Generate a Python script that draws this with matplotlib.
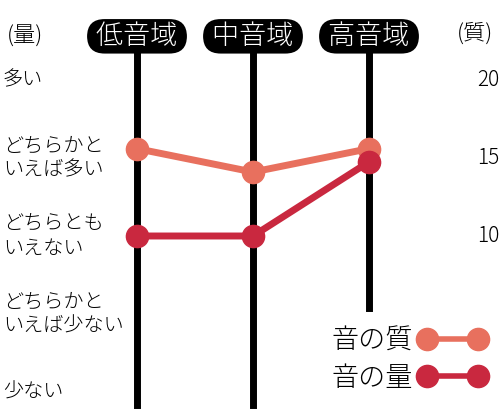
import matplotlib
matplotlib.use("Agg")
import matplotlib.pyplot as plt
from matplotlib.lines import Line2D

plt.rcParams['font.family'] = ['Noto Sans CJK JP', 'DejaVu Sans']
plt.rcParams['font.weight'] = 'light'

# data
ranges = ['低音域', '中音域', '高音域']
level_labels = ['少ない', 'どちらかと\nいえば少ない', 'どちらとも\nいえない', 'どちらかと\nいえば多い', '多い']
levels = [1, 2, 3, 4, 5]
quality_ticks = [10, 15, 20]
quality = [15.6, 14.1, 15.6]    # 音の質 (right scale)
quantity = [3.0, 3.0, 3.95]     # 音の量 (left scale)

c_quality = '#e8705e'
c_quantity = '#c9283f'

# pixel layout of the original: 116 px between columns, 78 px per level
lo, hi = 1 - 20 / 78, 5 + 80 / 78

fig = plt.figure(figsize=(5, 4.12), dpi=100)
axq = fig.add_axes([0, 0, 1, 1])
axq.set_xlim(-137 / 116, (500 - 137) / 116)
axq.set_ylim(5 * (lo - 1), 5 * (hi - 1))
axq.axis('off')

axv = axq.twinx()
axv.set_position([0, 0, 1, 1])
axv.set_ylim(lo, hi)
axv.axis('off')

# columns
for i, name in enumerate(ranges):
    bottom = 0.252 if i == len(ranges) - 1 else 0.017
    axq.axvline(i, ymin=bottom, ymax=0.9, color='black', lw=5, zorder=1)
    axv.text(i, 5.56, ' ' + name + ' ', ha='center', va='center', color='white',
             fontsize=19.5, zorder=5,
             bbox=dict(boxstyle='round,pad=0.12,rounding_size=0.65', fc='black', ec='none'))

axq.plot(range(len(ranges)), quality, color=c_quality, lw=5, marker='o', ms=16, zorder=3)
axv.plot(range(len(ranges)), quantity, color=c_quantity, lw=5, marker='o', ms=16, zorder=3)

# left scale (量)
for lv, lab in zip(levels, level_labels):
    axv.text(0.006, lv, lab, transform=axv.get_yaxis_transform(), ha='left', va='center',
             fontsize=14.5, linespacing=1.2)
axv.text(0.05, 5.55, '(量)', transform=axv.get_yaxis_transform(), ha='center', va='center', fontsize=16)

# right scale (質)
for q in quality_ticks:
    axq.text(0.955, q, str(q), transform=axq.get_yaxis_transform(), ha='left', va='center', fontsize=15)
axq.text(0.95, 5 * (5.6 - 1), '(質)', transform=axq.get_yaxis_transform(), ha='center', va='center', fontsize=16)

handles = [Line2D([], [], color=c_quality, lw=4, marker='o', ms=16),
           Line2D([], [], color=c_quantity, lw=4, marker='o', ms=16)]
axv.legend(handles, ['音の質', '音の量'], loc='center right', bbox_to_anchor=(1.0, 0.128),
           markerfirst=False, frameon=False, fontsize=19.5, handlelength=2.5, numpoints=2,
           labelspacing=0.33, handletextpad=0.2, borderpad=0)

fig.savefig('out.png', dpi=100)
